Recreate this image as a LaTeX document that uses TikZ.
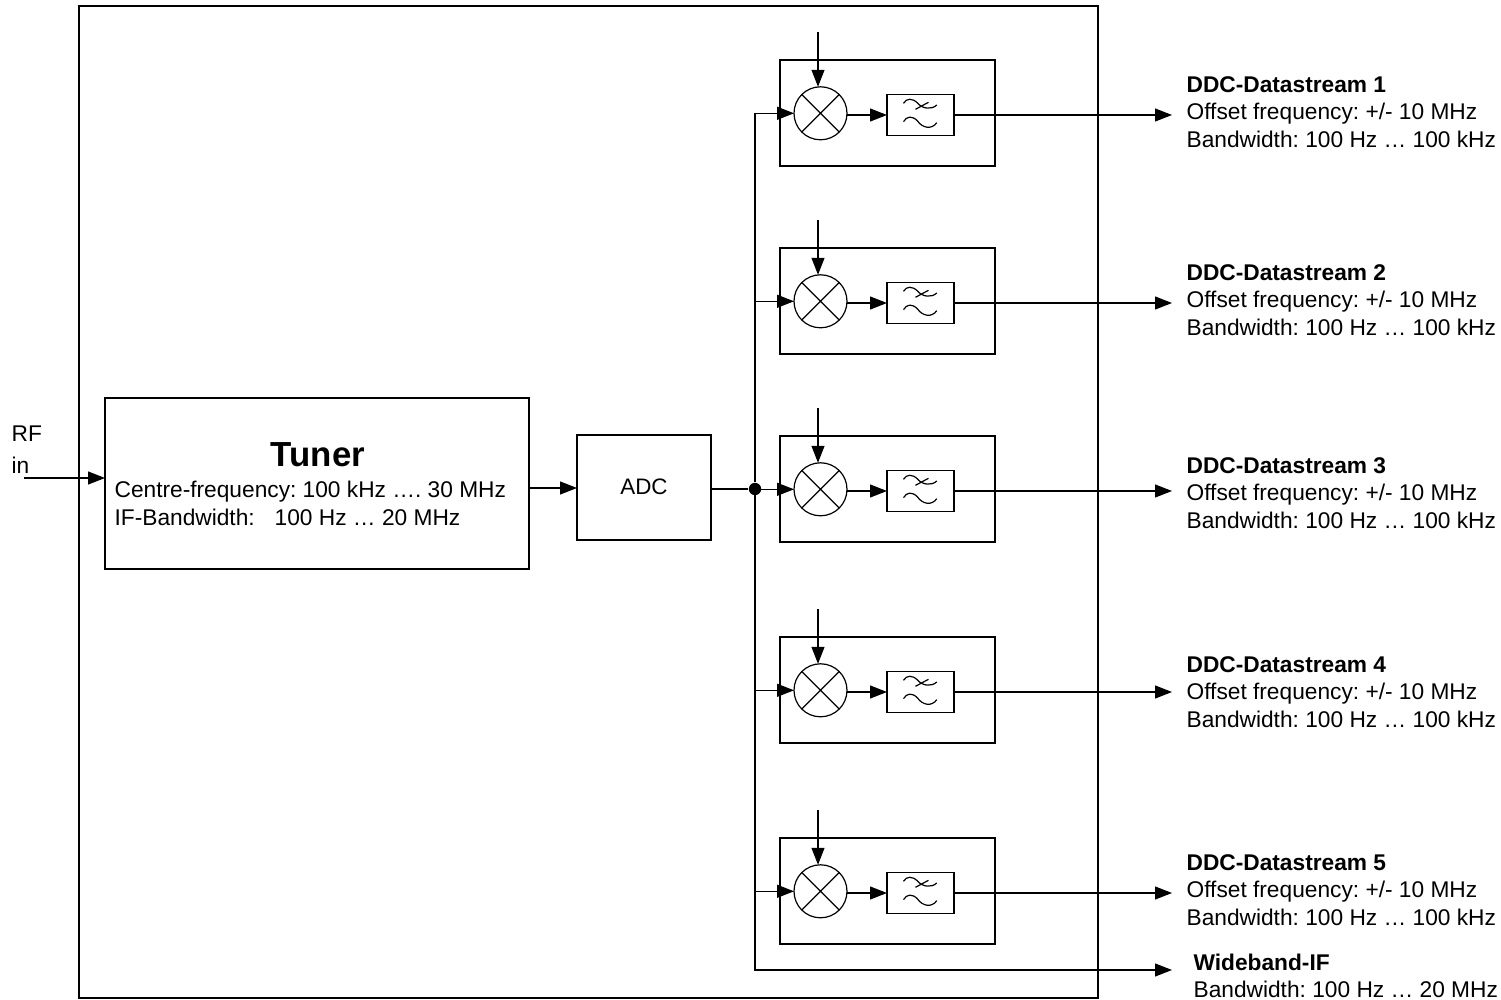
\documentclass[tikz,border=0pt]{standalone}
\usepackage{fontspec}
\setmainfont{Liberation Sans}
\frenchspacing
\usetikzlibrary{arrows.meta}
\tikzset{
  every path/.style={line width=0.6pt},
  box/.style={draw,rectangle,inner sep=0pt,outer sep=0pt},
  mixer/.style={draw,circle,inner sep=0pt,outer sep=0pt,minimum size=26.5pt},
  arr/.style={-{Triangle[length=8.5pt,width=6.5pt]}},
  lab/.style={font=\fontsize{11.36}{13.6}\selectfont,align=left,inner sep=0pt,anchor=west},
  glyph/.style={line width=0.45pt},
}
\begin{document}
\begin{tikzpicture}[x=0.5pt,y=-0.5pt]
\useasboundingbox (0,0) rectangle (1501,1000);
\node[box,minimum width=509.5pt,minimum height=496pt] (outer) at (588.5,502) {};
\node[box,minimum width=212pt,minimum height=85.5pt] (tuner) at (317,483.5) {};
\node[box,minimum width=67pt,minimum height=52.5pt] (adc) at (644,487.5) {};
\node[font=\fontsize{11.2}{13}\selectfont] (adclab) at (644,487) {ADC};
\node[font=\bfseries\fontsize{17.4}{20}\selectfont] (tunerlab) at (318,455) {Tuner};
\node[lab,font=\fontsize{11.36}{14}\selectfont] (tunertxt) at (114,503) {Centre-frequency: 100 kHz …. 30 MHz\\IF-Bandwidth:\hspace{0.6em} 100 Hz … 20 MHz};
\node[lab,font=\fontsize{11.36}{16}\selectfont] (rflab) at (11,450) {RF\\in};
\coordinate (rfin) at (24,478);
\draw[arr] (rfin) -- (rfin -| tuner.west);
\draw[arr] (tuner.east |- 0,488) -- (adc.west |- 0,488);
\node[circle,fill=black,inner sep=0pt,minimum size=6.2pt] (dot) at (755,489) {};
\coordinate (adcout) at (adc.east |- dot);
\draw (adcout) -- (dot);
\foreach \i/\T/\ty in {1/60/112,2/248/300,3/436/493,4/637/692,5/838/890}{
  \node[box,minimum width=107.5pt,minimum height=53pt] (ch\i) at (887.5,\T+53) {};
  \node[mixer] (m\i) at (820.5,\T+53.3) {};
  \draw (m\i.45) -- (m\i.225) (m\i.135) -- (m\i.315);
  \node[box,minimum width=33.5pt,minimum height=20.5pt] (f\i) at (920.5,\T+55) {};
  \coordinate (s\i) at (818,\T-28);
  \coordinate (o\i) at (1172,\T+55);
  \draw[arr] (s\i) -- (s\i |- m\i.north);
  \draw[arr] (m\i.east |- f\i.west) -- (f\i.west);
  \draw[arr] (f\i.east) -- (o\i);
  \draw[arr] (dot) |- (m\i.west);
  \begin{scope}[shift={(f\i.center)},glyph]
    \draw (-17,-11.7) .. controls (-14,-17) and (-8,-17) .. (-3,-12) .. controls (2,-6) and (11,-5) .. (16.3,-10);
    \draw (-5,-5.7) -- (8,-12.7);
    \draw (-17,6.7) .. controls (-14,1) and (-8,0.5) .. (-3,6) .. controls (2,13) and (11,15) .. (16.3,7.7);
  \end{scope}
  \node[lab] (t\i) at (1186,\ty) {\textbf{DDC-Datastream \i}\\Offset frequency: +/- 10 MHz\\Bandwidth: 100 Hz … 100 kHz};
}
\coordinate (wbout) at (1172,970);
\draw[arr] (dot) |- (wbout);
\node[lab] (wb) at (1193,976) {\textbf{Wideband-IF}\\Bandwidth: 100 Hz … 20 MHz};
\end{tikzpicture}
\end{document}
